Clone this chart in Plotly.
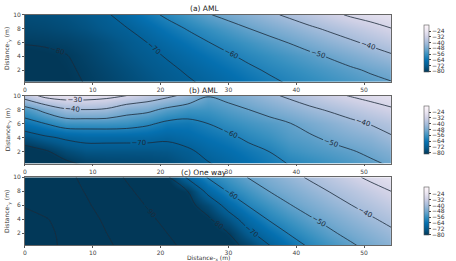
import plotly.graph_objects as go

# ---------------- data ----------------
x_vals = [0, 3, 6, 9, 12, 15, 18, 21, 24, 27, 30, 33, 36, 39, 42, 45, 48, 51, 54]
y_vals = [0, 2, 4, 6, 8, 10]

z_a = [
    [-84, -83, -81.5, -79.8, -78.2, -76.3, -74.5, -72.7, -71, -69, -66.6, -64.2, -61.8, -59.6, -57.8, -56, -54.3, -52.6, -50.8],
    [-83, -82, -80.9, -79.2, -77.3, -75.3, -73.3, -71.4, -69.2, -66.6, -64, -61.4, -59.1, -57.1, -55.1, -53.2, -51.2, -49, -46.9],
    [-82.5, -81.5, -80.3, -78.3, -76.1, -73.9, -71.8, -69.5, -66.6, -63.7, -60.9, -58.4, -56.2, -53.9, -51.7, -49.3, -46.5, -43.8, -41.1],
    [-79.5, -79.2, -78.5, -77, -75, -72.6, -70, -66.8, -63.5, -60.2, -57.6, -55, -52.4, -49.7, -46.9, -44, -41.2, -38.4, -35.6],
    [-77.5, -77, -76, -74.5, -72.5, -70.3, -66.9, -63.1, -59.5, -56.4, -53.2, -50.1, -47.3, -44.4, -41.4, -38.6, -35.8, -33, -30.2],
    [-76, -75.5, -74.5, -73, -70.9, -66.9, -62.6, -58.5, -54.5, -50.6, -47.6, -44.6, -41.6, -38.5, -35.3, -32.1, -29, -26.8, -25],
]

z_b = [
    [-90, -86, -82.5, -79.8, -78.5, -78, -77.5, -76.5, -74, -71, -68.2, -65.3, -62.5, -60, -58, -56, -54, -51.8, -49.5],
    [-84, -81, -76.4, -74, -74, -74, -74, -73.5, -71.5, -67.7, -65.2, -62.5, -60, -55.9, -54, -52.5, -50.7, -48.4, -45.6],
    [-75, -71.4, -68.8, -67.4, -67.4, -67.5, -67.5, -68.6, -66.5, -64, -61.7, -58.5, -56, -52.6, -51, -48.6, -46.3, -44.4, -40.8],
    [-64, -60, -55.5, -55.4, -55.3, -56, -58.5, -62, -62.5, -60, -56.9, -54.6, -52.6, -50.3, -47.5, -44.8, -42, -39.5, -37],
    [-54, -47, -41, -40, -41, -46, -47.5, -52, -55, -55, -52.3, -50, -47.3, -44.4, -41.6, -39, -36.3, -33.5, -31],
    [-35, -27, -25, -25.5, -27, -30, -34, -37.8, -42.5, -49.5, -47.5, -44.6, -41.6, -38.5, -35.3, -32.1, -29.5, -27.3, -25.5],
]

z_c = [
    [-116, -112.2, -108.6, -105, -101.4, -98, -94.9, -91.7, -88.5, -85.4, -82.3, -78.6, -71, -64.8, -59.5, -55.5, -51.6, -48.1, -44.9],
    [-115, -112, -108, -104, -100.1, -96.7, -93.4, -90, -86.7, -83.4, -80.1, -71.6, -65.4, -59.5, -55.3, -51.2, -47.8, -44.6, -41.5],
    [-113, -110.7, -106.7, -102.7, -98.8, -95.2, -91.6, -88.1, -84.7, -81.2, -74, -66, -59.4, -55.1, -50.9, -47.6, -44.1, -40.9, -38],
    [-109.3, -106.5, -104, -101, -97.2, -93.4, -89.6, -86, -82.4, -76.3, -66.8, -59.4, -55, -50.4, -47, -43.6, -40.2, -37.3, -34],
    [-109, -106, -103, -99.6, -95.5, -91.4, -87.5, -83.8, -80, -67.6, -59.4, -54.7, -50, -46.6, -43.1, -39.7, -36.6, -33.3, -30],
    [-107, -104.5, -102.3, -97.9, -93.5, -89.3, -85.2, -81.2, -68.7, -59.3, -54.4, -49.6, -46.1, -42.5, -39, -35.5, -31.9, -28.3, -25.5],
]

titles = ["(a) AML", "(b) AML", "(c) One way"]
cbar_ticks = [-24, -32, -40, -48, -56, -64, -72, -80]
x_ticks = [0, 10, 20, 30, 40, 50]
y_ticks = [2, 4, 6, 8, 10]

# ---------------- layout geometry ----------------
W, H = 456, 261
FONT = "DejaVu Sans"
x_dom = [24 / W, 408 / W]
panels_px = [(11, 79), (93, 162), (176, 245)]  # top, bottom in pixels
y_doms = [[1 - b / H, 1 - t / H] for t, b in panels_px]

colorscale = "PuBu"
line_col = "#1c2b3a"

fig = go.Figure()
zs = [z_a, z_b, z_c]
for i, z in enumerate(zs):
    xa = "x" if i == 0 else f"x{i+1}"
    ya = "y" if i == 0 else f"y{i+1}"
    d = y_doms[i]
    fig.add_trace(go.Heatmap(
        x=x_vals, y=y_vals, z=z, zsmooth="best",
        colorscale=colorscale, reversescale=True, zmin=-81, zmax=-15,
        xaxis=xa, yaxis=ya, hoverinfo="skip",
        colorbar=dict(
            x=432 / W, xanchor="left", y=(d[0] + d[1]) / 2, yanchor="middle",
            len=(d[1] - d[0]), lenmode="fraction", thickness=5,
            outlinewidth=0.6, outlinecolor="#555",
            tickvals=cbar_ticks, ticks="outside", ticklen=2, tickwidth=0.6,
            tickcolor="#444",
            tickfont=dict(size=6, color="#333", family=FONT),
        ),
    ))
    fig.add_trace(go.Contour(
        x=x_vals, y=y_vals, z=z, showscale=False,
        contours=dict(coloring="none", start=-120, end=-30, size=10,
                      showlabels=True,
                      labelfont=dict(size=7, color=line_col, family=FONT)),
        line=dict(color=line_col, width=0.8, smoothing=1),
        xaxis=xa, yaxis=ya, hoverinfo="skip",
    ))

axis_common = dict(showline=True, mirror=True, linecolor="#666", linewidth=0.8,
                   ticks="outside", ticklen=2, tickwidth=0.6, tickcolor="#555",
                   tickfont=dict(size=6, color="#444", family=FONT),
                   showgrid=False, zeroline=False)

layout = dict(
    width=W, height=H, margin=dict(l=0, r=0, t=0, b=0),
    paper_bgcolor="white", plot_bgcolor="white", showlegend=False,
    font=dict(family=FONT),
)
for i in range(3):
    xk = "xaxis" if i == 0 else f"xaxis{i+1}"
    yk = "yaxis" if i == 0 else f"yaxis{i+1}"
    ya = "y" if i == 0 else f"y{i+1}"
    xa = "x" if i == 0 else f"x{i+1}"
    layout[xk] = dict(domain=x_dom, range=[0, 54], anchor=ya,
                      tickvals=x_ticks, **axis_common)
    layout[yk] = dict(domain=y_doms[i], range=[0.3, 10], anchor=xa,
                      tickvals=y_ticks, **axis_common)

fig.update_layout(**layout)

ann = []
title_y_px = [5, 88, 171]
for i, t in enumerate(titles):
    ann.append(dict(text=t, x=212 / W, y=1 - title_y_px[i] / H, xref="paper", yref="paper",
                    xanchor="center", yanchor="middle", showarrow=False,
                    font=dict(size=7.5, color="#222", family=FONT)))
    d = y_doms[i]
    ann.append(dict(text="Distance-<sub>y</sub> (m)", x=6 / W, y=(d[0] + d[1]) / 2,
                    xref="paper", yref="paper", textangle=-90,
                    xanchor="center", yanchor="middle", showarrow=False,
                    font=dict(size=6, color="#333", family=FONT)))
ann.append(dict(text="Distance-<sub>x</sub> (m)", x=216 / W, y=1 - 257.5 / H,
                xref="paper", yref="paper", xanchor="center", yanchor="middle",
                showarrow=False, font=dict(size=6, color="#333", family=FONT)))
fig.update_layout(annotations=ann)

fig.write_html("out.html")
